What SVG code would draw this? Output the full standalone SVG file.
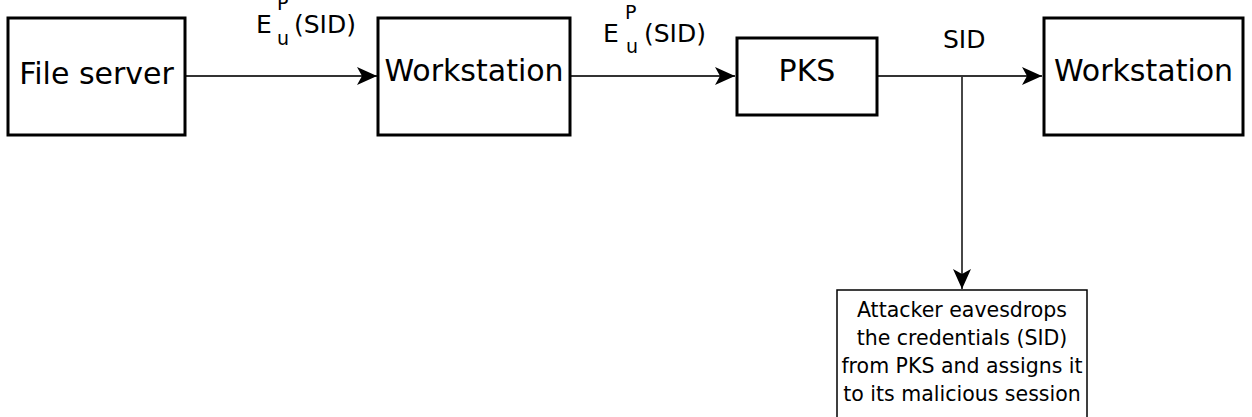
<svg xmlns="http://www.w3.org/2000/svg" width="1252" height="417" viewBox="0 0 1252 417">
<style>
.box{fill:#fff;stroke:#000;stroke-width:3}
.thin{fill:#fff;stroke:#000;stroke-width:1.5}
.lbl{font-family:"DejaVu Sans",sans-serif;font-size:30px;fill:#000;text-anchor:middle}
.ed{font-family:"DejaVu Sans",sans-serif;font-size:25px;fill:#000}
.sub{font-family:"DejaVu Sans",sans-serif;font-size:19px;fill:#000}
.sm{font-family:"DejaVu Sans",sans-serif;font-size:20.5px;fill:#000;text-anchor:middle}
.con{stroke:#333;stroke-width:1.8;fill:none}
</style>
<defs>
<marker id="ah" markerUnits="userSpaceOnUse" markerWidth="22" markerHeight="22" viewBox="-20 -10 22 20" refX="0" refY="0" orient="auto">
<path d="M0,0 L-20,-9 L-15,0 L-20,9 Z" fill="#000"/>
</marker>
</defs>
<g id="connectors">
<line class="con" x1="185" y1="76" x2="377" y2="76" marker-end="url(#ah)"/>
<line class="con" x1="570" y1="76" x2="735" y2="76" marker-end="url(#ah)"/>
<line class="con" x1="877" y1="76" x2="1042" y2="76" marker-end="url(#ah)"/>
<line class="con" x1="962" y1="76" x2="962" y2="289" marker-end="url(#ah)"/>
<text class="ed" x="256" y="33">E</text>
<text class="sub" x="277" y="10">P</text>
<text class="sub" x="277" y="45">u</text>
<text class="ed" x="294" y="33">(SID)</text>
<text class="ed" x="603" y="42">E</text>
<text class="sub" x="625" y="19">P</text>
<text class="sub" x="626" y="53">u</text>
<text class="ed" x="644" y="42">(SID)</text>
<text class="ed" x="943" y="48">SID</text>
</g>
<g id="file-server">
<rect class="box" x="8" y="18" width="177" height="117"/>
<text class="lbl" x="96.5" y="84">File server</text>
</g>
<g id="workstation-1">
<rect class="box" x="378" y="18" width="192" height="117"/>
<text class="lbl" x="474" y="81">Workstation</text>
</g>
<g id="pks">
<rect class="box" x="737" y="38" width="140" height="77"/>
<text class="lbl" x="807" y="81" font-size="28">PKS</text>
</g>
<g id="workstation-2">
<rect class="box" x="1044" y="18" width="199" height="117"/>
<text class="lbl" x="1143.5" y="81">Workstation</text>
</g>
<g id="attacker">
<rect class="thin" x="837" y="290" width="250" height="140"/>
<text class="sm" x="962" y="317">Attacker eavesdrops</text>
<text class="sm" x="962" y="345">the credentials (SID)</text>
<text class="sm" x="962" y="373">from PKS and assigns it</text>
<text class="sm" x="962" y="401">to its malicious session</text>
</g>
</svg>
